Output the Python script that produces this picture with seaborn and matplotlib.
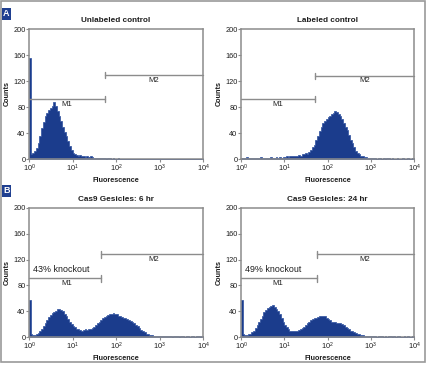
import numpy as np
import pandas as pd
import matplotlib
matplotlib.use("Agg")
import matplotlib.pyplot as plt
import seaborn as sns
from matplotlib.patches import Rectangle

sns.set_style("white")
plt.rcParams['font.family'] = ['Liberation Sans', 'DejaVu Sans']
plt.rcParams['mathtext.fontset'] = 'custom'
plt.rcParams['mathtext.rm'] = 'Liberation Sans'
plt.rcParams['mathtext.it'] = 'Liberation Sans'

# ---- data: histogram counts, 100 channels over 10^0..10^4 (25 per decade) ----
unlabeled = [155, 8, 10, 12, 17, 25, 36, 47, 57, 66,
             71, 75, 79, 82, 87, 82, 74, 66, 58, 50,
             42, 35, 27, 20, 14, 10, 8, 6, 5, 6,
             4, 4, 3, 5, 3, 4, 3, 2, 2, 1,
             2, 1, 1, 1, 0, 1, 1, 0, 1, 0,
             0, 1, 0, 0, 0, 0, 0, 0, 0, 0] + [0] * 40

labeled = [2, 1, 2, 3, 2, 1, 2, 2, 1, 2, 2, 3, 2, 2, 1, 2, 2, 3, 2, 2, 3, 2, 3, 2, 3,
           3, 4, 3, 4, 5, 4, 4, 5, 6, 5, 7, 8, 10,
           8, 11, 14, 18, 22, 29, 36, 43, 49, 55, 58, 61, 64, 66, 69, 71, 74,
           72, 70, 66, 61, 56, 50, 44, 37, 30, 24, 18, 13, 10, 7, 5, 4, 3, 3, 2, 2, 1,
           1, 1, 0, 1, 1, 0, 1, 0, 1, 1, 0, 1, 0, 0, 1, 0, 0, 1, 0, 0, 1, 0, 0, 1]

gesicles_6h = [57, 4, 3, 3, 4, 6, 9, 13, 17, 22,
               27, 31, 34, 37, 39, 41, 43, 44, 42, 40,
               36, 32, 28, 24, 20, 17, 15, 13, 12, 11,
               10, 11, 12, 11, 12, 13, 14, 15, 18, 21,
               24, 27, 29, 31, 33, 34, 35, 36, 37, 36,
               35, 33, 32, 31, 30, 29, 28, 27, 25, 23,
               21, 19, 17, 14, 11, 9, 7, 5, 4, 3,
               3, 2, 2, 2, 1, 1,
               1, 1, 1, 1, 1, 1, 0, 1, 1, 1, 0, 1, 1, 0, 1, 1, 0, 1, 1, 0, 1, 1, 0, 1]

gesicles_24h = [57, 5, 3, 3, 4, 5, 7, 10, 14, 18,
                23, 28, 33, 38, 42, 45, 47, 48, 49, 47,
                44, 40, 35, 30, 24, 19, 15, 12, 10, 9,
                9, 9, 10, 11, 12, 14, 16, 18, 21, 24,
                26, 28, 30, 30, 31, 32, 32, 33, 32, 30,
                28, 26, 24, 23, 23, 22, 22, 21, 20, 18,
                16, 14, 12, 10, 9, 7, 6, 5, 4, 3,
                3, 2, 2, 2, 1,
                1, 1, 1, 0, 1, 1, 1, 0, 1, 0, 1, 1, 0, 1, 0, 1, 1, 0, 0, 1, 0, 1, 0, 0, 1]

titles = ["Unlabeled control", "Labeled control",
          "Cas9 Gesicles: 6 hr", "Cas9 Gesicles: 24 hr"]
series = [unlabeled, labeled, gesicles_6h, gesicles_24h]
# marker gates in log10 units: M1 end / M2 start, and bar heights (counts)
gate_split = [1.75, 1.71, 1.66, 1.75]
m1_level = [92, 92, 91, 91]
m2_level = [129, 128, 128, 128]
knockout = [None, None, "43% knockout", "49% knockout"]

BLUE = "#1b3c8c"
GRAY = "#8c8c8c"
TXT = "#1e1e1e"

fig = plt.figure(figsize=(4.30, 3.77), dpi=100)
W, H = 430, 377


def px_axes(x0, y0, x1, y1):
    return fig.add_axes([x0 / W, 1 - y1 / H, (x1 - x0) / W, (y1 - y0) / H])


boxes = [(29, 29, 203, 159), (241, 29, 414, 159),
         (29, 208, 203, 337), (241, 208, 414, 337)]

for i, (box, title, counts) in enumerate(zip(boxes, titles, series)):
    ax = px_axes(*box)
    n = len(counts)
    width = 4 / n
    df = pd.DataFrame({"channel": (np.arange(n) + 0.5) * width, "events": counts})
    sns.histplot(data=df, x="channel", weights="events", bins=n, binrange=(0, 4),
                 element="step", fill=True, color=BLUE, alpha=1,
                 linewidth=0.5, edgecolor="#2c4f9e", ax=ax)
    ax.set_xlim(0, 4)
    ax.set_ylim(0, 200)
    ax.set_xticks([0, 1, 2, 3, 4])
    ax.set_xticklabels([rf"$10^{{{k}}}$" for k in range(5)])
    ax.set_yticks([0, 40, 80, 120, 160, 200])
    ax.tick_params(axis="both", labelsize=5.3, colors=GRAY, labelcolor=TXT,
                   length=2, width=0.8, pad=0.5, direction="out",
                   bottom=True, left=True)
    for s in ax.spines.values():
        s.set_color(GRAY)
        s.set_linewidth(1.1)
    ax.set_title(title, fontsize=5.9, fontweight="bold", color=TXT, pad=5)
    ax.set_xlabel("Fluorescence", fontsize=5.2, fontweight="bold", color=TXT, labelpad=2)
    ax.set_ylabel("Counts", fontsize=5.2, fontweight="bold", color=TXT, labelpad=2)

    # M1 / M2 gates
    g = gate_split[i]
    ax.plot([0, g], [m1_level[i]] * 2, color=GRAY, lw=1, clip_on=False)
    ax.plot([g, 4], [m2_level[i]] * 2, color=GRAY, lw=1, clip_on=False)
    for yv in (m1_level[i], m2_level[i]):
        ax.plot([g, g], [yv - 5, yv + 5], color=GRAY, lw=1)
    ax.text(0.86, m1_level[i] - 10, "M1", fontsize=5.6, color=TXT, ha="center")
    ax.text(2.87, m2_level[i] - 10, "M2", fontsize=5.6, color=TXT, ha="center")
    if knockout[i]:
        ax.text(0.1, m1_level[i] + 9, knockout[i], fontsize=6.4, color=TXT, ha="left")

# panel letters
for letter, ypx in (("A", 14), ("B", 191)):
    fig.text(6.5 / W, 1 - ypx / H, letter, fontsize=6.5, fontweight="bold", color="white",
             ha="center", va="center",
             bbox=dict(boxstyle="square,pad=0.15", facecolor="#1f3f90", edgecolor="none"))

# outer frame
fig.patches.append(Rectangle((1 / W, 1 - 362 / H), 424 / W, 361.5 / H,
                             transform=fig.transFigure, fill=False,
                             edgecolor="#9a9a9a", linewidth=1.2))

fig.savefig("out.png", dpi=100)
